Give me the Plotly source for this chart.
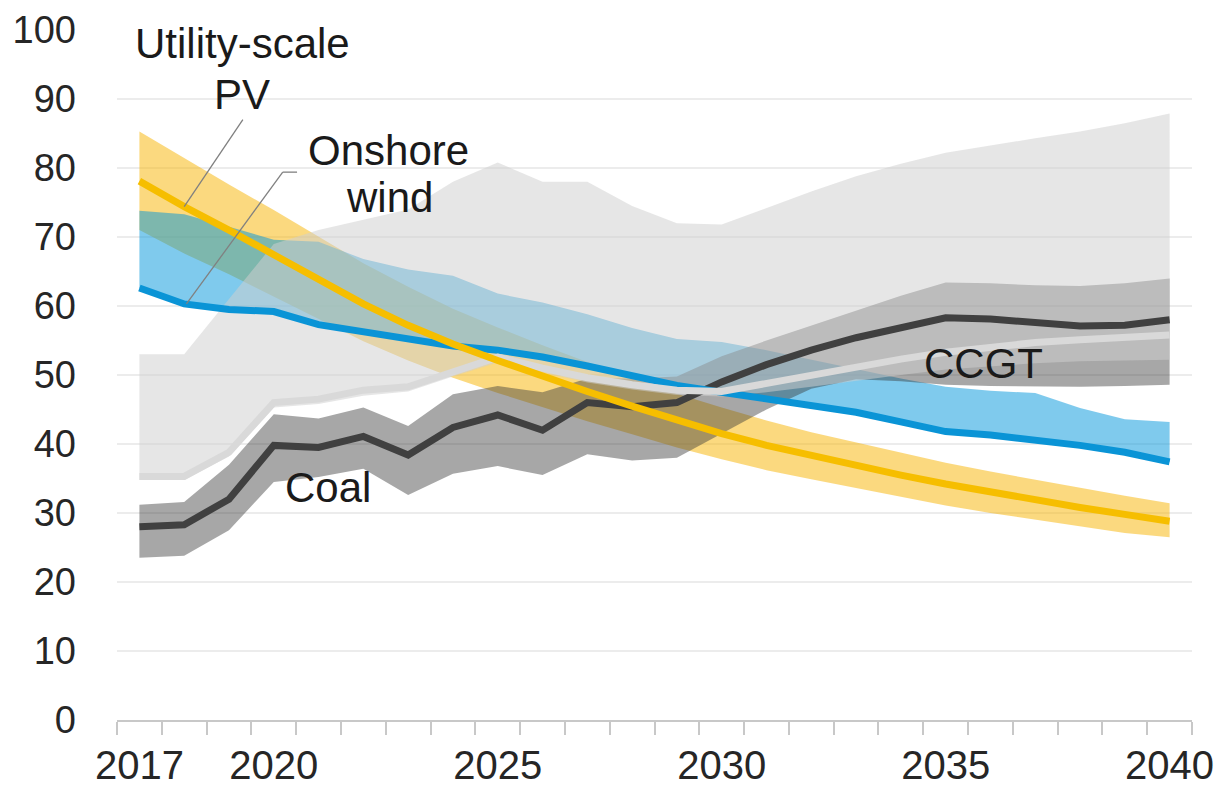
import plotly.graph_objects as go

years = list(range(2017, 2041))

# Utility-scale PV
pv = [78.1, 74.4, 71.0, 67.5, 63.8, 60.3, 57.2, 54.5, 52.1, 49.8, 47.6, 45.5,
      43.4, 41.5, 39.8, 38.3, 36.9, 35.5, 34.2, 33.0, 31.9, 30.8, 29.8, 28.8]
pv_high = [85.3, 81.4, 77.6, 73.9, 70.0, 66.2, 62.8, 59.6, 56.9, 54.3, 51.9, 49.6,
           47.3, 45.3, 43.4, 41.7, 40.2, 38.7, 37.3, 36.0, 34.8, 33.6, 32.5, 31.4]
pv_low = [71.0, 67.6, 64.6, 61.4, 58.1, 54.9, 52.1, 49.6, 47.4, 45.3, 43.3, 41.4,
          39.5, 37.8, 36.2, 34.9, 33.6, 32.3, 31.1, 30.0, 29.0, 28.0, 27.1, 26.5]

# Onshore wind
wind = [62.6, 60.3, 59.5, 59.2, 57.3, 56.3, 55.4, 54.2, 53.6, 52.6, 51.3, 49.8,
        48.5, 47.5, 46.6, 45.6, 44.6, 43.2, 41.8, 41.3, 40.6, 39.8, 38.8, 37.4]
wind_high = [73.8, 73.3, 71.5, 69.6, 69.3, 66.8, 65.3, 64.4, 61.8, 60.5, 58.8, 56.8,
             55.2, 54.8, 53.6, 52.2, 50.8, 49.5, 48.3, 47.7, 47.4, 45.2, 43.6, 43.2]

# Coal
coal = [28.0, 28.3, 32.0, 39.8, 39.5, 41.1, 38.4, 42.4, 44.2, 42.0, 46.0, 45.4,
        46.0, 49.0, 51.5, 53.6, 55.4, 56.9, 58.3, 58.1, 57.6, 57.1, 57.2, 58.0]
coal_high = [31.2, 31.6, 37.0, 44.3, 43.7, 45.3, 42.6, 47.2, 48.4, 47.5, 49.5, 49.5,
             49.8, 52.7, 55.0, 57.2, 59.4, 61.5, 63.4, 63.3, 63.0, 62.9, 63.3, 64.0]
coal_low = [23.5, 23.8, 27.5, 34.5, 35.2, 36.4, 32.6, 35.7, 36.8, 35.5, 38.5, 37.6,
            38.0, 41.5, 45.0, 48.0, 49.4, 49.1, 48.6, 48.4, 48.3, 48.3, 48.4, 48.6]

# CCGT
ccgt = [35.3, 35.3, 38.8, 46.0, 46.5, 47.8, 48.3, 50.5, 52.6, 51.0, 49.6, 48.6,
        47.8, 47.6, 48.8, 50.0, 51.2, 52.3, 53.3, 54.1, 54.7, 55.1, 55.5, 55.8]
ccgt_high = [53.0, 53.0, 61.0, 69.0, 71.0, 72.5, 74.0, 78.0, 80.8, 78.0, 78.0, 74.5,
             72.0, 71.8, 74.2, 76.6, 78.8, 80.6, 82.2, 83.3, 84.3, 85.3, 86.5, 87.9]
ccgt_low = [34.8, 34.8, 38.2, 45.3, 45.8, 47.0, 47.6, 49.8, 51.8, 50.3, 48.9, 47.9,
            47.1, 46.9, 47.5, 48.3, 49.2, 50.0, 50.8, 51.3, 51.7, 52.0, 52.1, 52.2]

x_tick_years = [2017, 2020, 2025, 2030, 2035, 2040]

FONT = "Liberation Sans, Arial, sans-serif"

fig = go.Figure()


def band(low, high, color):
    fig.add_trace(go.Scatter(x=years, y=low, mode="lines", line=dict(width=0),
                             hoverinfo="skip", showlegend=False))
    fig.add_trace(go.Scatter(x=years, y=high, mode="lines", line=dict(width=0),
                             fill="tonexty", fillcolor=color,
                             hoverinfo="skip", showlegend=False))


# ranges (coloured ranges first, grey ranges blended on top)
band(pv_low, pv_high, "rgba(248,180,0,0.5)")
band(wind, wind_high, "rgba(0,150,220,0.5)")
band(coal_low, coal_high, "rgba(60,60,60,0.45)")
band(ccgt_low, ccgt_high, "rgba(207,207,207,0.52)")


def line(values, color, width):
    fig.add_trace(go.Scatter(x=years, y=values, mode="lines",
                             line=dict(color=color, width=width),
                             showlegend=False))


line(coal, "#404040", 7)
line(wind, "#0a94d6", 7)
line(ccgt, "#d9d9d9", 7)
line(pv, "#f6be00", 7)

# label leader lines, ending on the 2018 values of each series
lead = dict(color="#808080", width=1.3)
fig.add_shape(type="line", xref="x", yref="y", x0=2019.31, y0=87.0,
              x1=2018.0, y1=pv[1], line=lead)
fig.add_shape(type="line", xref="x", yref="y", x0=2020.52, y0=79.4,
              x1=2020.2, y1=79.4, line=lead)
fig.add_shape(type="line", xref="x", yref="y", x0=2020.2, y0=79.4,
              x1=2018.05, y1=wind[1], line=lead)

labels = [
    ("Utility-scale", 2019.31, 98.0),
    ("PV", 2019.29, 90.6),
    ("Onshore", 2022.57, 82.6),
    ("wind", 2022.59, 75.7),
    ("Coal", 2021.21, 33.7),
    ("CCGT", 2035.85, 51.6),
]
for text, lx, ly in labels:
    fig.add_annotation(x=lx, y=ly, xref="x", yref="y", text=text,
                       showarrow=False, xanchor="center", yanchor="middle",
                       font=dict(family=FONT, size=42, color="#1a1a1a"))

fig.update_layout(
    width=1220, height=791,
    margin=dict(l=117, r=28, t=30, b=71),
    paper_bgcolor="white", plot_bgcolor="white",
    font=dict(family=FONT, color="#262626"),
    showlegend=False,
)
fig.update_xaxes(
    range=[2016.5, 2040.5], automargin=False,
    tickmode="array", tickvals=x_tick_years,
    ticks="", showgrid=False, zeroline=False,
    showline=True, linecolor="#c8c8c8", linewidth=2,
    tickfont=dict(size=40, color="#262626"),
    ticklabelstandoff=9,
    minor=dict(tickmode="array",
               tickvals=[y - 0.5 for y in years] + [years[-1] + 0.5],
               ticks="outside", ticklen=13, tickwidth=2, tickcolor="#c8c8c8",
               showgrid=False),
)
fig.update_yaxes(
    range=[0, 100], dtick=10, tick0=0, automargin=False,
    showgrid=True, gridcolor="#ececec", gridwidth=1.5,
    zeroline=False, showline=False, ticks="",
    tickfont=dict(size=38, color="#262626"),
    ticklabelstandoff=40,
)

fig.write_html("out.html")
